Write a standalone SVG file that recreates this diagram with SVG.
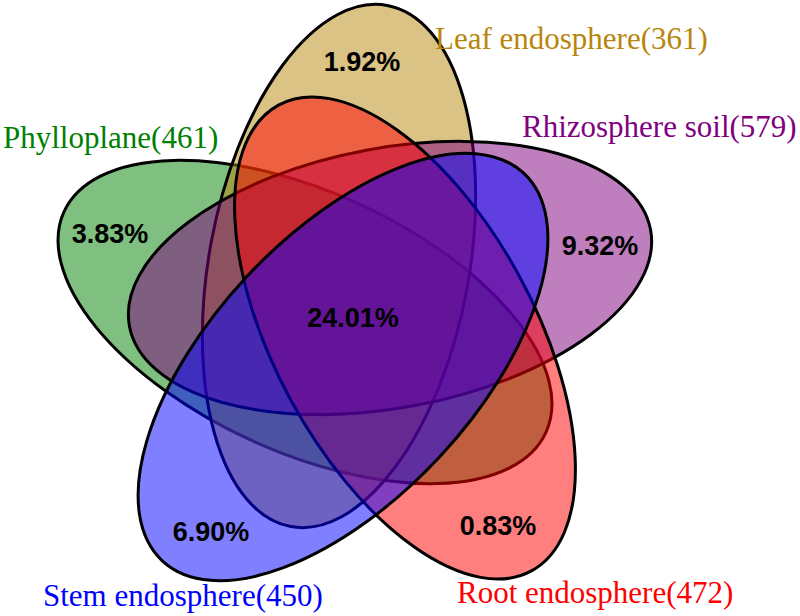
<svg xmlns="http://www.w3.org/2000/svg" width="800" height="616" viewBox="0 0 800 616">
<style>
.e{stroke:#000;stroke-width:3;fill-opacity:0.5}
.cat{font-family:"Liberation Serif","Times New Roman",serif;font-size:31px}
.pct{font-family:"Liberation Sans",Arial,sans-serif;font-size:27px;font-weight:bold;fill:#000;text-anchor:middle}
</style>
<rect width="800" height="616" fill="#fff"/>
<g id="sets">
<g id="phylloplane"><ellipse class="e" cx="305" cy="322" rx="265" ry="130" transform="rotate(24.6 305 322)" fill="#008000"/></g>
<g id="leaf"><ellipse class="e" cx="339" cy="266" rx="265" ry="130" transform="rotate(-79.5 339 266)" fill="#B8860B"/></g>
<g id="rhizo"><ellipse class="e" cx="390" cy="278" rx="265" ry="130" transform="rotate(-10.5 390 278)" fill="#800080"/></g>
<g id="root"><ellipse class="e" cx="405" cy="338" rx="265" ry="130" transform="rotate(61.5 405 338)" fill="#FF0000"/></g>
<g id="stem"><ellipse class="e" cx="343" cy="367" rx="265" ry="132" transform="rotate(-47 343 367)" fill="#0000FF"/></g>
</g>
<g id="labels">
<text class="cat" x="3" y="148" fill="#008000">Phylloplane(461)</text>
<text class="cat" x="435" y="49" fill="#B8860B">Leaf endosphere(361)</text>
<text class="cat" x="522" y="137" fill="#800080">Rhizosphere soil(579)</text>
<text class="cat" x="43" y="606" fill="#0000FF">Stem endosphere(450)</text>
<text class="cat" x="457" y="603" fill="#FF0000">Root endosphere(472)</text>
<text class="pct" x="362" y="71">1.92%</text>
<text class="pct" x="110" y="243">3.83%</text>
<text class="pct" x="600" y="255">9.32%</text>
<text class="pct" x="211" y="541">6.90%</text>
<text class="pct" x="498" y="535">0.83%</text>
<text class="pct" x="353" y="327">24.01%</text>
</g>
</svg>
